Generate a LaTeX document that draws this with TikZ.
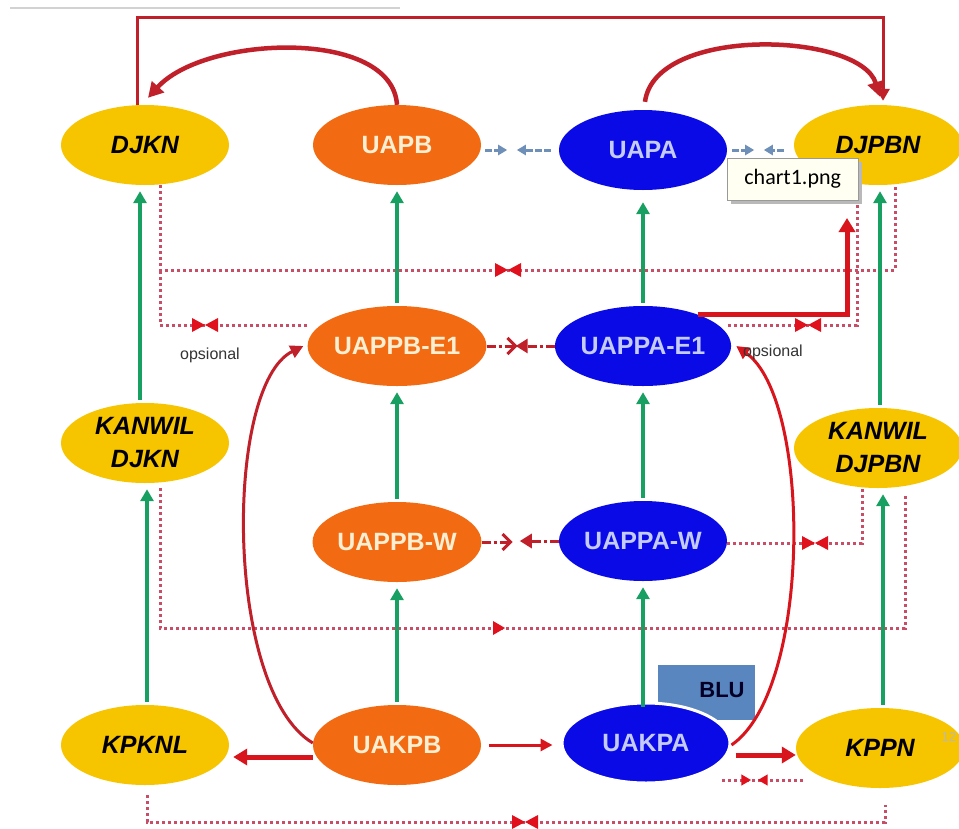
\documentclass[tikz,border=0pt]{standalone}
\usepackage{fontspec}
\setmainfont{Liberation Sans}
\newfontfamily\tipfont{Carlito}
\usetikzlibrary{shapes.geometric,arrows.meta}
\definecolor{ygold}{HTML}{F7C400}
\definecolor{orng}{HTML}{F26A12}
\definecolor{bluN}{HTML}{0A0AE6}
\definecolor{otext}{HTML}{FFEFD2}
\definecolor{btext}{HTML}{C4CBFF}
\definecolor{grn}{HTML}{18A062}
\definecolor{rd}{HTML}{D8141C}
\definecolor{rdk}{HTML}{C0202A}
\definecolor{dotred}{HTML}{C84E68}
\definecolor{bowred}{HTML}{E0101C}
\definecolor{steel}{HTML}{6E8FB8}
\definecolor{blubox}{HTML}{5A86C0}
\definecolor{tipbg}{HTML}{FFFFF2}
\tikzset{
  ell/.style={ellipse, minimum width=168pt, minimum height=80pt, inner sep=0pt, align=center},
  ynode/.style={ell, fill=ygold, text=black, font=\bfseries\itshape\fontsize{25}{33}\selectfont},
  onode/.style={ell, fill=orng, text=otext, font=\bfseries\fontsize{25}{30}\selectfont},
  bnode/.style={ell, fill=bluN, text=btext, font=\bfseries\fontsize{25}{30}\selectfont},
  garrow/.style={draw=grn, line width=3.5pt, -{Triangle[length=12pt,width=13pt]}, shorten >=6pt, shorten <=3pt},
  rthick/.style={draw=rd, line width=5pt, -{Triangle[length=14pt,width=16pt]}},
  rthin/.style={draw=rd, line width=3pt, -{Triangle[length=12pt,width=12pt]}},
  rcurve/.style={draw=rdk, line width=3pt, -{Triangle[length=13pt,width=13pt]}},
  rarc/.style={draw=rdk, line width=4.5pt, -{Triangle[length=15pt,width=16pt]}},
  dotline/.style={draw=dotred, line width=3pt, dash pattern=on 3pt off 3pt},
  ddline/.style={draw=rdk, line width=3pt, dash pattern=on 9pt off 3pt on 3pt off 3pt},
  stl/.style={draw=steel, line width=3pt, dash pattern=on 7pt off 2pt, -{Triangle[length=9pt,width=10pt]}},
  opsl/.style={font=\fontsize{16}{18}\selectfont, text=black!80},
  bow/.pic={\fill[bowred] (-13,-7)--(0,0)--(-13,7)--cycle (13,-7)--(0,0)--(13,7)--cycle;},
  rtri/.pic={\fill[bowred] (-12,-7)--(0,0)--(-12,7)--cycle;},
  ltri/.pic={\fill[bowred] (12,-7)--(0,0)--(12,7)--cycle;}
}
\begin{document}
\begin{tikzpicture}[x=1pt,y=-1pt]
\useasboundingbox (0,0) rectangle (959,828);
\fill[white] (0,0) rectangle (959,828);
% top grey rule
\draw[draw=gray!35, line width=2pt] (10,8) -- (400,8);

% BLU box (behind UAKPA)
\node[fill=blubox, minimum width=97pt, minimum height=55pt, inner sep=0pt, anchor=north west] (blu) at (658,665) {};
\node[font=\bfseries\fontsize{22}{24}\selectfont, text=black!85!blue] (blulbl) at (722,690) {BLU};

% nodes
\node[ynode] (DJKN) at (145,145) {DJKN};
\node[onode] (UAPB) at (397,145) {UAPB};
\node[bnode] (UAPA) at (643,150) {UAPA};
\node[ynode] (DJPBN) at (878,145) {DJPBN};
\node[onode] (UAPPBE) at (397,346) {UAPPB-E1};
\node[bnode] (UAPPAE) at (643,346) {UAPPA-E1};
\node[ynode] (KWDJKN) at (145,443) {KANWIL\\DJKN};
\node[ynode] (KWDJPBN) at (878,448) {KANWIL\\DJPBN};
\node[onode] (UAPPBW) at (397,542) {UAPPB-W};
\node[bnode] (UAPPAW) at (643,541) {UAPPA-W};
\node[ynode] (KPKNL) at (145,745) {KPKNL};
\node[onode] (UAKPB) at (397,745) {UAKPB};
\node[bnode, draw=white, line width=3pt] (UAKPA) at (646,743) {UAKPA};
\node[ynode] (KPPN) at (880,748) {KPPN};

% coordinates
\coordinate (tl) at (137,17);
\coordinate (tr) at (883,17);
\coordinate (d1) at (160,270);
\coordinate (d2) at (895,270);
\coordinate (o1) at (160,325);
\coordinate (o2) at (857,325);
\coordinate (w1) at (862,543);
\coordinate (m1) at (160,628);
\coordinate (m2) at (905,628);
\coordinate (b1) at (147,822);
\coordinate (b2) at (885,822);
\coordinate (b3) at (885,805);
\coordinate (s1) at (722,780);
\coordinate (s2) at (803,780);
\coordinate (e1up) at (847,218);

% dotted red lines
\draw[dotline] ([xshift=15pt]DJKN.south) -- (d1) -- (d2) -- ([xshift=17pt]DJPBN.south);
\draw[dotline] ([yshift=21pt]UAPPBE.west) -- (o1) -- (d1);
\draw[dotline] ([yshift=21pt,xshift=-3pt]UAPPAE.east) -- (o2) -- ([xshift=-21pt]DJPBN.south);
\draw[dotline] ([yshift=-2pt]UAPPAW.east) -- (w1) -- ([xshift=-16pt]KWDJPBN.south);
\draw[dotline] ([xshift=15pt,yshift=-5pt]KWDJKN.south) -- (m1) -- (m2) -- ([xshift=27pt,yshift=-5pt]KWDJPBN.south);
\draw[dotline] ([xshift=2pt,yshift=-10pt]KPKNL.south) -- (b1) -- (b2) -- (b3);
\draw[dotline] (s1) -- (s2);
\pic at (508,270) {bow};
\pic at (205,325) {bow};
\pic at (808,325) {bow};
\pic at (815,543) {bow};
\pic at (525,822) {bow};
\pic at (505,628) {rtri};
\pic[scale=0.8] at (751,780) {rtri};
\pic[scale=0.8] at (758,780) {ltri};

% dash-dot arrows between E1 and W
\draw[ddline, -{Straight Barb[length=8pt,width=16pt]}] (UAPPBE.east) -- ++(31,0);
\draw[ddline, -{Triangle[length=12pt,width=14pt]}] (UAPPAE.west) -- ++(-39,0);
\draw[ddline, -{Straight Barb[length=8pt,width=16pt]}] (UAPPBW.east) -- ++(31,0);
\draw[ddline, -{Triangle[length=12pt,width=14pt]}] (UAPPAW.west) -- ++(-39,0);

% steel blue arrows
\draw[stl] ([yshift=-5pt,xshift=4pt]UAPB.east) -- ++(22,0);
\draw[stl] ([xshift=-8pt]UAPA.west) -- ++(-34,0);
\draw[stl] ([xshift=5pt]UAPA.east) -- ++(22,0);
\draw[stl] ([xshift=-10pt,yshift=-5pt]DJPBN.west) -- ++(-20,0);

% green arrows
\draw[garrow] ([xshift=-5pt]KWDJKN.north) -- ([xshift=-5pt]DJKN.south);
\draw[garrow] ([xshift=2pt]KPKNL.north) -- ([xshift=2pt]KWDJKN.south);
\draw[garrow] (UAPPBE.north) -- (UAPB.south);
\draw[garrow] (UAPPBW.north) -- (UAPPBE.south);
\draw[garrow] (UAKPB.north) -- (UAPPBW.south);
\draw[garrow, shorten >=12pt] (UAPPAE.north) -- (UAPA.south);
\draw[garrow] (UAPPAW.north) -- (UAPPAE.south);
\draw[garrow] ([xshift=-3pt,yshift=-8pt]UAKPA.north) -- (UAPPAW.south);
\draw[garrow] ([xshift=2pt]KWDJPBN.north) -- ([xshift=2pt]DJPBN.south);
\draw[garrow] ([xshift=3pt]KPPN.north) -- ([xshift=5pt]KWDJPBN.south);

% red connectors
\draw[draw=rdk, line width=3pt, -{Triangle[length=12pt,width=13pt]}] ([xshift=-8pt]DJKN.north) -- (tl) -- (tr) -- ([xshift=5pt,yshift=4pt]DJPBN.north);
\draw[rarc] (UAPB.north) .. controls (392,28) and (205,35) .. ([xshift=3pt,yshift=7pt]DJKN.north);
\draw[rarc] ([yshift=8pt,xshift=2pt]UAPA.north) .. controls (655,25) and (860,32) .. ([xshift=2pt,yshift=8pt]DJPBN.north);
\draw[rthick] (UAPPAE.30) -| (e1up);
\draw[rcurve] ([yshift=2pt]UAKPB.west) .. controls (224,690) and (224,385) .. ([xshift=-4pt]UAPPBE.west);
\draw[rcurve, draw=rd] ([yshift=-2pt]UAKPA.east) .. controls (812,690) and (812,400) .. ([xshift=5pt]UAPPAE.east);
\draw[rthick] ([yshift=-12pt]UAKPB.west) -- ([yshift=-12pt,xshift=4pt]KPKNL.east);
\draw[rthin, shorten >=8pt, shorten <=8pt] (UAKPB.east) -- ([yshift=-2pt]UAKPA.west);
\draw[rthick] ([yshift=-12pt,xshift=4pt]UAKPA.east) -- ([yshift=-7pt]KPPN.west);

% labels
\node[opsl] (op1) at (210,355) {opsional};
\node[opsl] (op2) at (773,352) {opsional};
\node[font=\fontsize{13}{15}\selectfont, text=gray!55] (pg) at (949,737) {12};

% tooltip
\fill[gray!55] (731,162) rectangle (862,204);
\node[draw=gray!80, fill=tipbg, minimum width=131pt, minimum height=42pt, inner sep=0pt, anchor=north west, font=\tipfont\fontsize{22}{24}\selectfont] (tip) at (727,158) {chart1.png};
\end{tikzpicture}
\end{document}
